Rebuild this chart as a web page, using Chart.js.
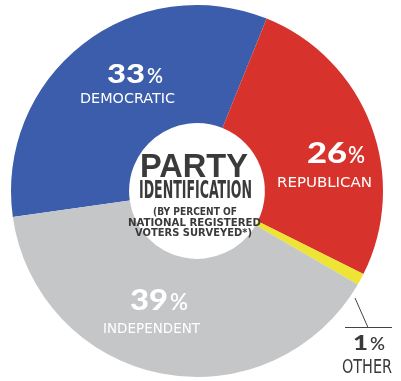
<!DOCTYPE html>
<html><head><meta charset="utf-8">
<script src="https://cdn.jsdelivr.net/npm/chart.js@4"></script>
<style>html,body{margin:0;padding:0;background:#fff;overflow:hidden}</style>
</head><body>
<canvas id="c" width="401" height="381"></canvas>
<script>
const categories = ['DEMOCRATIC', 'REPUBLICAN', 'OTHER', 'INDEPENDENT'];
const percentValues = [33, 26, 1, 39];
const sliceColors = ['#3b5dab', '#d8322d', '#eee434', '#c4c6c8'];
const titleLines = ['PARTY', 'IDENTIFICATION', '(BY PERCENT OF', 'NATIONAL REGISTERED', 'VOTERS SURVEYED*)'];

function fitText(ctx, text, left, base, width, font, color) {
  ctx.save();
  ctx.font = font;
  ctx.fillStyle = color;
  ctx.textAlign = 'left';
  ctx.textBaseline = 'alphabetic';
  const w = ctx.measureText(text).width;
  ctx.translate(left, base);
  ctx.scale(width / w, 1);
  ctx.fillText(text, 0, 0);
  ctx.restore();
}

// text layout (left, baseline, widths) for each slice label
const labelLayout = [
  {numL: 107, numW: 38, pctL: 147, pctW: 16, numBase: 83, size: 26, nameL: 80, nameW: 95, nameBase: 103, color: '#ffffff'},
  {numL: 307, numW: 40, pctL: 348, pctW: 17, numBase: 163, size: 29, nameL: 277, nameW: 95, nameBase: 187, color: '#ffffff'},
  {numL: 353, numW: 15, pctL: 370, pctW: 15, numBase: 350, size: 21, nameL: 342, nameW: 50, nameBase: 373, color: '#3a3a3a', nameSize: 20},
  {numL: 130, numW: 38, pctL: 170, pctW: 18, numBase: 310, size: 29, nameL: 103, nameW: 97, nameBase: 333, color: '#ffffff'}
];

const labelPlugin = {
  id: 'sliceLabels',
  afterDraw(chart) {
    const ctx = chart.ctx;
    const cond = '"Liberation Sans Narrow", "DejaVu Sans Condensed", "Liberation Sans", sans-serif';
    const heavy = 'Lato, "DejaVu Sans", sans-serif';
    categories.forEach((name, i) => {
      const L = labelLayout[i];
      fitText(ctx, String(percentValues[i]), L.numL, L.numBase, L.numW, '900 ' + L.size + 'px ' + heavy, L.color);
      fitText(ctx, '%', L.pctL, L.numBase, L.pctW, '600 ' + Math.round(L.size * 0.8) + 'px ' + heavy, L.color);
      fitText(ctx, name, L.nameL, L.nameBase, L.nameW, '400 ' + (L.nameSize || 14) + 'px ' + cond, L.color);
    });
    // leader line for OTHER
    ctx.save();
    ctx.strokeStyle = '#444';
    ctx.lineWidth = 1;
    ctx.beginPath();
    ctx.moveTo(355, 298);
    ctx.lineTo(368, 327.5);
    ctx.moveTo(345, 327.5);
    ctx.lineTo(392, 327.5);
    ctx.stroke();
    ctx.restore();
    // center title
    const dark = '#3a3a3a';
    fitText(ctx, titleLines[0], 140, 177, 108, '700 33px "Liberation Sans", sans-serif', dark);
    fitText(ctx, titleLines[1], 139, 198, 113, '700 24px ' + cond, dark);
    fitText(ctx, titleLines[2], 153, 215, 84, '700 11px ' + cond, dark);
    fitText(ctx, titleLines[3], 128, 225.5, 133, '700 11px ' + cond, dark);
    fitText(ctx, titleLines[4], 135, 236, 117, '700 11px ' + cond, dark);
  }
};

new Chart(document.getElementById('c'), {
  type: 'doughnut',
  data: {
    labels: categories,
    datasets: [{
      data: percentValues,
      backgroundColor: sliceColors,
      borderWidth: 0,
      hoverOffset: 0
    }]
  },
  options: {
    responsive: false,
    animation: false,
    cutout: '36.5%',
    rotation: -98,
    layout: {padding: {top: 5, bottom: 4, left: 0, right: 7}},
    plugins: {legend: {display: false}, tooltip: {enabled: false}}
  },
  plugins: [labelPlugin]
});
</script>
</body></html>
